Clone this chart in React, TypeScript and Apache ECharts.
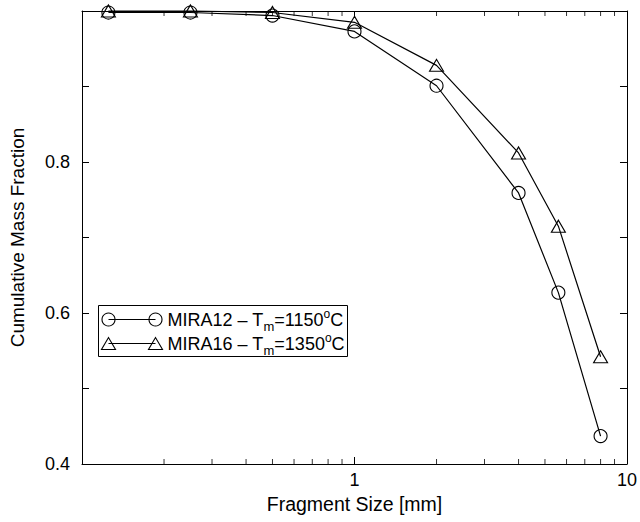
import React, { useEffect, useRef } from 'react';
import * as echarts from 'echarts';

// Sieve sizes (mm) and cumulative mass fraction for each melt
const fragmentSizes = [0.125, 0.25, 0.5, 1, 2, 4, 5.6, 8];
const mira12Values = [0.998, 0.998, 0.994, 0.973, 0.901, 0.759, 0.627, 0.437];
const mira16Values = [1.0, 1.0, 0.998, 0.985, 0.928, 0.812, 0.715, 0.542];

// Axis ranges and minor log ticks
const xMin = 0.1;
const xMax = 10;
const yMin = 0.4;
const yMax = 1.0;
const minorTickValues = [0.2, 0.3, 0.4, 0.5, 0.6, 0.7, 0.8, 0.9, 2, 3, 4, 5, 6, 7, 8, 9];

const FONT = '"Liberation Sans", Arial, Helvetica, sans-serif';

export default function App() {
  const ref = useRef<HTMLDivElement>(null);

  useEffect(() => {
    document.body.style.margin = '0';
    const chart = echarts.init(ref.current!, null, { renderer: 'svg' });

    const axisLine = { show: true, lineStyle: { color: '#000', width: 1 } };
    const tick = { show: true, inside: true, length: 7, lineStyle: { color: '#000', width: 1 } };

    const legendRich = {
      sub: { fontSize: 13, fontFamily: FONT, color: '#000', fill: '#000', padding: [13, 0, 0, 0] },
      sup: { fontSize: 12, fontFamily: FONT, color: '#000', fill: '#000', padding: [0, 0, 12, 0] },
    };

    // short tick marks for the minor log decades, drawn as thin rectangles
    const minorTickSeries = (yValue: number, offset: number) => ({
      type: 'scatter',
      data: minorTickValues.map((v) => [v, yValue]),
      symbol: 'rect',
      symbolSize: [1, 5],
      symbolOffset: [0, offset],
      itemStyle: { color: '#000' },
      clip: false,
      silent: true,
    });

    chart.setOption({
      animation: false,
      backgroundColor: '#fff',
      grid: { left: 82, right: 8, top: 11, bottom: 58, show: false },
      xAxis: [
        {
          type: 'log',
          logBase: 10,
          min: xMin,
          max: xMax,
          position: 'bottom',
          axisLine,
          axisTick: tick,
          splitLine: { show: false },
          axisLabel: {
            color: '#000',
            fontSize: 18,
            fontFamily: FONT,
            margin: 7,
            formatter: (v: number) => (v >= 0.99 ? String(Math.round(v)) : ''),
          },
          name: 'Fragment Size [mm]',
          nameLocation: 'middle',
          nameGap: 30,
          nameTextStyle: { color: '#000', fontSize: 19.5, fontFamily: FONT },
        },
        {
          type: 'log',
          logBase: 10,
          min: xMin,
          max: xMax,
          position: 'top',
          axisLine,
          axisTick: tick,
          splitLine: { show: false },
          axisLabel: { show: false },
        },
      ],
      yAxis: [
        {
          type: 'value',
          min: yMin,
          max: yMax,
          interval: 0.1,
          position: 'left',
          axisLine,
          axisTick: tick,
          splitLine: { show: false },
          axisLabel: {
            color: '#000',
            fontSize: 18,
            fontFamily: FONT,
            margin: 12,
            formatter: (v: number) => {
              const k = Math.round(v * 10);
              return k % 2 === 0 && k < 10 ? (k / 10).toFixed(1) : '';
            },
          },
          name: 'Cumulative Mass Fraction',
          nameLocation: 'middle',
          nameGap: 55,
          nameTextStyle: { color: '#000', fontSize: 19, fontFamily: FONT },
        },
        {
          type: 'value',
          min: yMin,
          max: yMax,
          interval: 0.1,
          position: 'right',
          axisLine,
          axisTick: tick,
          splitLine: { show: false },
          axisLabel: { show: false },
        },
      ],
      series: [
        {
          type: 'line',
          name: 'MIRA12',
          clip: false,
          data: fragmentSizes.map((s, i) => [s, mira12Values[i]]),
          symbol: 'circle',
          symbolSize: 13,
          itemStyle: { color: 'transparent', borderColor: '#000', borderWidth: 1.1 },
          lineStyle: { color: '#000', width: 1.2 },
          z: 3,
        },
        {
          type: 'line',
          name: 'MIRA16',
          clip: false,
          data: fragmentSizes.map((s, i) => [s, mira16Values[i]]),
          symbol: 'triangle',
          symbolSize: [14, 12],
          itemStyle: { color: 'transparent', borderColor: '#000', borderWidth: 1.1 },
          lineStyle: { color: '#000', width: 1.2 },
          z: 3,
        },
        minorTickSeries(yMin, -2.5),
        minorTickSeries(yMax, 2.5),
      ],
      graphic: [
        {
          type: 'group',
          left: 98,
          top: 305,
          children: [
            { type: 'rect', shape: { x: 0, y: 0, width: 249, height: 51 }, style: { fill: '#fff', stroke: '#000', lineWidth: 1 } },
            { type: 'line', shape: { x1: 10, y1: 14, x2: 57, y2: 14 }, style: { stroke: '#000', lineWidth: 1.2 } },
            { type: 'circle', shape: { cx: 10, cy: 14, r: 6.5 }, style: { fill: 'none', stroke: '#000', lineWidth: 1.1 } },
            { type: 'circle', shape: { cx: 57, cy: 14, r: 6.5 }, style: { fill: 'none', stroke: '#000', lineWidth: 1.1 } },
            {
              type: 'text',
              x: 69,
              y: 14,
              style: {
                text: 'MIRA12 – T{sub|m}=1150{sup|o}C',
                rich: legendRich,
                fill: '#000',
                fontSize: 18,
                fontFamily: FONT,
                verticalAlign: 'middle',
              },
            },
            { type: 'line', shape: { x1: 10, y1: 38, x2: 57, y2: 38 }, style: { stroke: '#000', lineWidth: 1.2 } },
            { type: 'polygon', shape: { points: [[3, 44], [17, 44], [10, 32]] }, style: { fill: 'none', stroke: '#000', lineWidth: 1.1 } },
            { type: 'polygon', shape: { points: [[50, 44], [64, 44], [57, 32]] }, style: { fill: 'none', stroke: '#000', lineWidth: 1.1 } },
            {
              type: 'text',
              x: 69,
              y: 38,
              style: {
                text: 'MIRA16 – T{sub|m}=1350{sup|o}C',
                rich: legendRich,
                fill: '#000',
                fontSize: 18,
                fontFamily: FONT,
                verticalAlign: 'middle',
              },
            },
          ],
        },
      ],
    });

    return () => chart.dispose();
  }, []);

  return <div ref={ref} style={{ width: 640, height: 522 }} />;
}
